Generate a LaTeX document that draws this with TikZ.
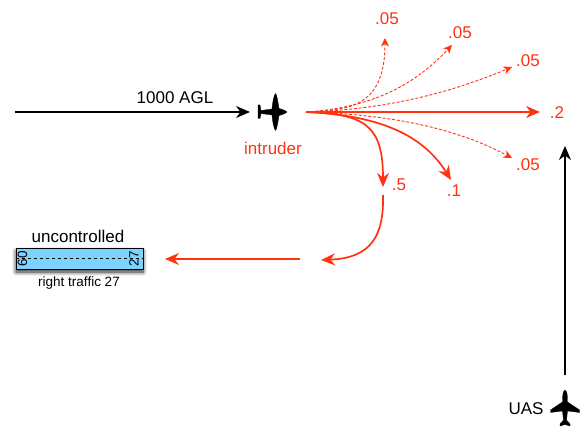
\documentclass[tikz,border=0pt]{standalone}
\usepackage{fontspec}
\setmainfont{Liberation Sans}
\usetikzlibrary{arrows.meta,shadows.blur,calc}
\definecolor{redline}{HTML}{FF3311}
\definecolor{rwy}{HTML}{7DD3FF}
\tikzset{
  lbl/.style={inner sep=0pt,font=\fontsize{17}{19}\selectfont},
  rlbl/.style={lbl,text=redline},
  small/.style={inner sep=0pt,font=\fontsize{13.5}{15}\selectfont},
  tip/.style={-{Stealth[inset=4.5pt,length=14pt,width=12pt]}},
  tipsm/.style={-{Stealth[inset=2.5pt,length=8.5pt,width=8pt]}},
  blk/.style={tip,line width=1.3pt,black},
  strong/.style={tip,line width=1.7pt,redline},
  thin dash/.style={tipsm,line width=0.9pt,redline,dash pattern=on 3pt off 1.8pt},
  plane/.style={fill=black,draw=black,line width=0.3pt,line join=round},
}
\begin{document}
\begin{tikzpicture}[x=1pt,y=-1pt]
\useasboundingbox (0,0) rectangle (584,430);
% coordinates
\coordinate (start) at (15,112);
\coordinate (blkend) at (250,112);
\coordinate (hub) at (306,112);
\coordinate (e1) at (385,38);
\coordinate (e2) at (452,45);
\coordinate (e3) at (512,67);
\coordinate (e4) at (540,112);
\coordinate (e5) at (512,158);
\coordinate (e6) at (383,187);
\coordinate (e7) at (451,180);
\coordinate (s8) at (383,195);
\coordinate (e8) at (321,260);
\coordinate (s9) at (300,259);
\coordinate (e9) at (165,259);
\coordinate (s10) at (565,375);
\coordinate (e10) at (565,146);
% black arrows
\draw[blk] (start) -- (blkend);
\draw[blk] (s10) -- (e10);
% dashed
\draw[thin dash] (hub) .. controls (345,110) and (385,110) .. (e1);
\draw[thin dash] (hub) .. controls (365,108) and (410,90) .. (e2);
\draw[thin dash] (hub) .. controls (380,110) and (445,95) .. (e3);
\draw[thin dash] (hub) .. controls (380,114) and (450,125) .. (e5);
% solid red
\draw[strong] (hub) -- (e4);
\draw[strong] (hub) .. controls (365,114) and (383,125) .. (e6);
\draw[strong] (hub) .. controls (370,115) and (420,130) .. (e7);
\draw[strong] (s8) .. controls (384,235) and (372,258) .. (e8);
\draw[strong] (s9) -- (e9);
% labels
\node[lbl,anchor=base] (agl) at (175,104) {1000 AGL};
\node[rlbl,anchor=base] (intr) at (273,155) {intruder};
\node[rlbl,anchor=base] (p1) at (387,25) {.05};
\node[rlbl,anchor=base] (p2) at (460,39) {.05};
\node[rlbl,anchor=base] (p3) at (528,67) {.05};
\node[rlbl,anchor=base] (p4) at (557,119) {.2};
\node[rlbl,anchor=base] (p5) at (528,171) {.05};
\node[rlbl,anchor=base] (p6) at (399,191) {.5};
\node[rlbl,anchor=base] (p7) at (454,197) {.1};
\node[lbl,anchor=base] (uas) at (526,414) {UAS};
% runway
\node[draw=black,line width=0.9pt,fill=rwy,minimum width=127pt,minimum height=21pt,inner sep=0pt,
  blur shadow={shadow blur steps=10,shadow xshift=0pt,shadow yshift=-3pt,shadow blur radius=4pt,shadow opacity=85}]
  (rw) at (79.5,258.5) {};
\draw[line width=0.9pt,dash pattern=on 3.5pt off 2.5pt] (rw.west) -- (rw.east);
\node[inner sep=0pt,rotate=90,small] (n60) at (22.5,258.5) {60};
\node[inner sep=0pt,rotate=90,small] (n27) at (134,258.5) {27};
\node[lbl,anchor=base] (unc) at (78,243) {uncontrolled};
\node[small,anchor=base] (rt) at (79,287) {right traffic 27};
% intruder plane (nose to the right)
\fill[plane] (287,112) .. controls (284,109.5) and (281,109) .. (279,108.5)
  .. controls (278,102) and (277,95) .. (275.5,93.5)
  .. controls (274,95) and (272.5,102) .. (272,109)
  -- (261,110.5) -- (260,105) -- (258,105) -- (258,118.5) -- (260,118.5) -- (261,113.5) -- (272,115)
  .. controls (272.5,122) and (274,129) .. (275.5,130.5)
  .. controls (277,129) and (278,122) .. (279,115.5)
  .. controls (281,115) and (284,114.5) .. (287,112) -- cycle;
% UAS plane (nose up)
\fill[plane] (565,390) .. controls (563,391) and (562.5,395) .. (562.5,402)
  -- (550.5,410) -- (550.5,412.5) -- (562.5,411) -- (563.5,420) -- (560,424) -- (560,426) -- (565,424.5)
  -- (570,426) -- (570,424) -- (566.5,420) -- (567.5,411) -- (579.5,412.5) -- (579.5,410) -- (567.5,402)
  .. controls (567.5,395) and (567,391) .. (565,390) -- cycle;
\end{tikzpicture}
\end{document}
